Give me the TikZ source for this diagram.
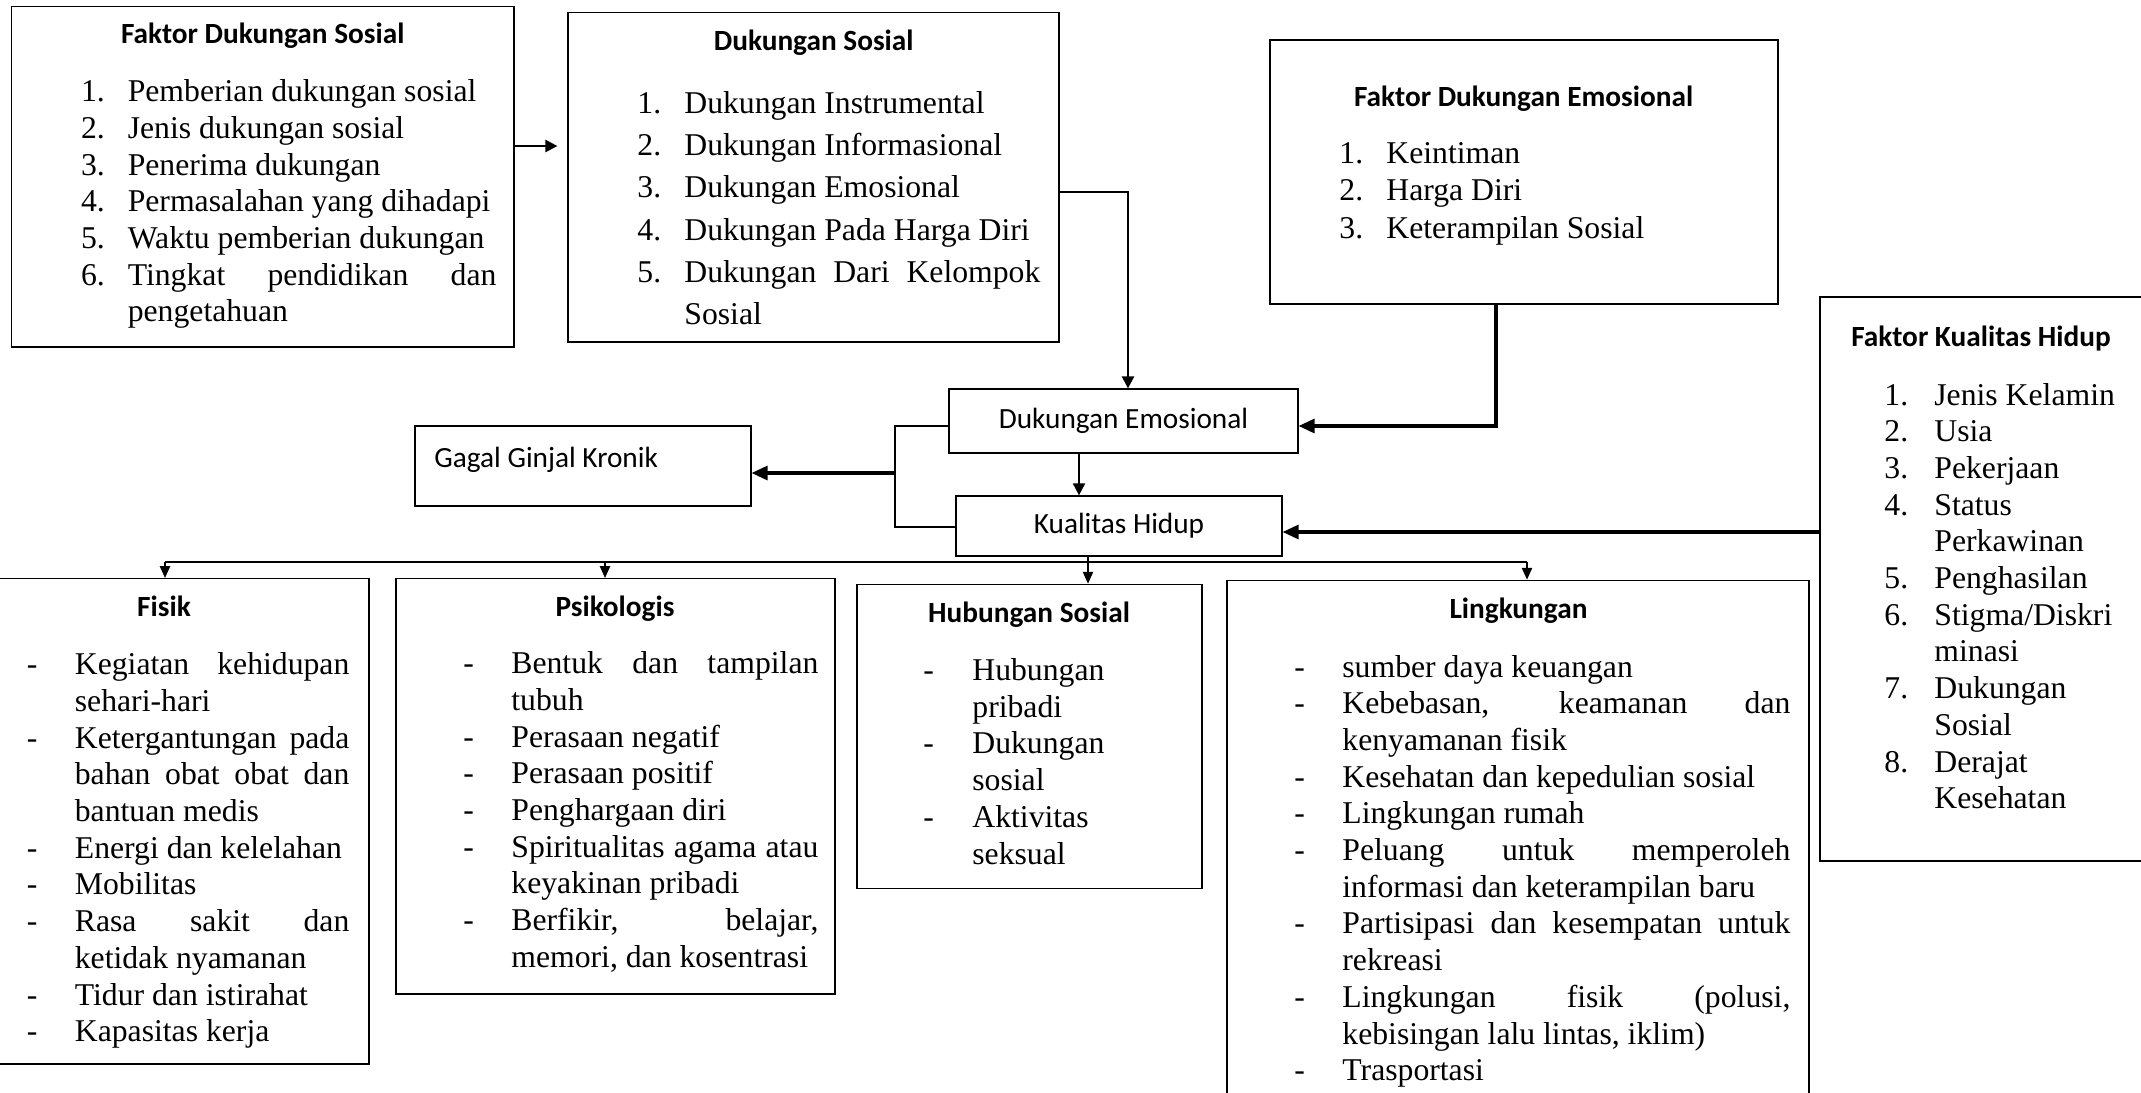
\documentclass[tikz,border=0pt]{standalone}
\usepackage{fontspec}
\setmainfont{Liberation Serif}
\newfontfamily\calfont{Carlito}
\usetikzlibrary{arrows.meta,fit}

\newlength\hangw
\newcommand\itm[2]{\par\hangindent=\hangw\hangafter=1\noindent\makebox[\hangw][l]{#1}#2}
% #1 hang, #2 width, #3 baselineskip, #4 items
\newcommand\lstbox[4]{\parbox[t]{#2}{\fontsize{15.85pt}{#3}\selectfont\setlength\hangw{#1}%
  \tolerance=10000\hyphenpenalty=10000\exhyphenpenalty=10000\parskip=0pt\parindent=0pt #4}}
\newcommand\hdfont{\calfont\bfseries\fontsize{14.65pt}{17pt}\selectfont}
\newcommand\lblfont{\calfont\fontsize{14.65pt}{17pt}\selectfont}

\begin{document}
\begin{tikzpicture}[x=0.5pt,y=-0.5pt,
  box/.style={draw, line width=0.6pt, inner sep=0pt},
  hd/.style={font=\hdfont, anchor=base, inner sep=0pt},
  lbl/.style={font=\lblfont, anchor=base, inner sep=0pt},
  lst/.style={anchor=base west, inner sep=0pt},
  conn/.style={line width=1.2pt},
  thk/.style={line width=1.6pt},
  thn/.style={line width=0.9pt},
  bigtip/.style={-{Triangle[length=8pt,width=7pt]}},
  midtip/.style={-{Triangle[length=6pt,width=6pt]}},
  smalltip/.style={-{Triangle[length=6pt,width=5pt]}}]

\useasboundingbox (0,0) rectangle (2141,1092);
\fill[white] (0,0) rectangle (2141,1092);
\clip (0,0) rectangle (2141,1092);

% ---------- boxes ----------
\node[box, fit={(11.7,6.7) (514,347)}] (fds) {};
\node[box, fit={(568,12.7) (1059,342)}] (ds) {};
\node[box, fit={(1270,40) (1778,304)}] (fde) {};
\node[box, fit={(949,389) (1298,453)}] (de) {};
\node[box, fit={(956,496) (1282,556)}] (kh) {};
\node[box, fit={(415,426) (751,506)}] (ggk) {};
\node[box, fit={(1820,297) (2170,861)}] (fkh) {};
\node[box, fit={(-8,578.7) (369,1064)}] (fisik) {};
\node[box, fit={(396,578.7) (835,994)}] (psi) {};
\node[box, fit={(857,584.4) (1202,888.5)}] (hs) {};
\node[box, fit={(1227,580.4) (1809,1120)}] (ling) {};

% ---------- single labels ----------
\node[lbl] (deT) at (1123.5,428.3) {Dukungan Emosional};
\node[lbl] (khT) at (1119,533.3) {Kualitas Hidup};
\node[lbl, anchor=base west] (ggkT) at (434,467.3) {Gagal Ginjal Kronik};

% ---------- headings ----------
\node[hd] (fdsH) at (262.7,43.5) {Faktor Dukungan Sosial};
\node[hd] (dsH) at (813.7,50) {Dukungan Sosial};
\node[hd] (fdeH) at (1523.6,106) {Faktor Dukungan Emosional};
\node[hd] (fkhH) at (1981,346.7) {Faktor Kualitas Hidup};
\node[hd] (fisikH) at (164,616) {Fisik};
\node[hd] (psiH) at (615,616) {Psikologis};
\node[hd] (hsH) at (1029,622.8) {Hubungan Sosial};
\node[hd] (lingH) at (1518.5,618.4) {Lingkungan};

% ---------- lists ----------
\node[lst] (fdsL) at (80.6,101.7) {\lstbox{23.4pt}{207.7pt}{18.35pt}{%
  \itm{1.}{Pemberian dukungan sosial}
  \itm{2.}{Jenis dukungan sosial}
  \itm{3.}{Penerima dukungan}
  \itm{4.}{Permasalahan yang dihadapi}
  \itm{5.}{Waktu pemberian dukungan}
  \itm{6.}{Tingkat pendidikan dan\linebreak pengetahuan}}};

\node[lst] (dsL) at (637,113.3) {\lstbox{23.5pt}{201.5pt}{21.15pt}{%
  \itm{1.}{Dukungan Instrumental}
  \itm{2.}{Dukungan Informasional}
  \itm{3.}{Dukungan Emosional}
  \itm{4.}{Dukungan Pada Harga Diri}
  \itm{5.}{Dukungan Dari Kelompok\linebreak Sosial}}};

\node[lst] (fdeL) at (1339,163.3) {\lstbox{23.5pt}{200pt}{18.75pt}{%
  \itm{1.}{Keintiman}
  \itm{2.}{Harga Diri}
  \itm{3.}{Keterampilan Sosial}}};

\node[lst] (fkhL) at (1884,405) {\lstbox{25pt}{130pt}{18.35pt}{%
  \itm{1.}{Jenis Kelamin}
  \itm{2.}{Usia}
  \itm{3.}{Pekerjaan}
  \itm{4.}{Status\\Perkawinan}
  \itm{5.}{Penghasilan}
  \itm{6.}{Stigma/Diskri\\minasi}
  \itm{7.}{Dukungan\\Sosial}
  \itm{8.}{Derajat\\Kesehatan}}};

\node[lst] (fisikL) at (26.5,674.7) {\lstbox{24pt}{161.25pt}{18.35pt}{%
  \itm{-}{Kegiatan kehidupan\linebreak sehari-hari}
  \itm{-}{Ketergantungan pada\linebreak bahan obat obat dan\linebreak bantuan medis}
  \itm{-}{Energi dan kelelahan}
  \itm{-}{Mobilitas}
  \itm{-}{Rasa sakit dan\linebreak ketidak nyamanan}
  \itm{-}{Tidur dan istirahat}
  \itm{-}{Kapasitas kerja}}};

\node[lst] (psiL) at (463,673.7) {\lstbox{24pt}{177.5pt}{18.35pt}{%
  \itm{-}{Bentuk dan tampilan\linebreak tubuh}
  \itm{-}{Perasaan negatif}
  \itm{-}{Perasaan positif}
  \itm{-}{Penghargaan diri}
  \itm{-}{Spiritualitas agama atau\linebreak keyakinan pribadi}
  \itm{-}{Berfikir, belajar,\linebreak memori, dan kosentrasi}}};

\node[lst] (hsL) at (923,680.5) {\lstbox{24.5pt}{110pt}{18.35pt}{%
  \itm{-}{Hubungan\\pribadi}
  \itm{-}{Dukungan\\sosial}
  \itm{-}{Aktivitas\\seksual}}};

\node[lst] (lingL) at (1294,677) {\lstbox{24pt}{248pt}{18.35pt}{%
  \itm{-}{sumber daya keuangan}
  \itm{-}{Kebebasan, keamanan dan\linebreak kenyamanan fisik}
  \itm{-}{Kesehatan dan kepedulian sosial}
  \itm{-}{Lingkungan rumah}
  \itm{-}{Peluang untuk memperoleh\linebreak informasi dan keterampilan baru}
  \itm{-}{Partisipasi dan kesempatan untuk\linebreak rekreasi}
  \itm{-}{Lingkungan fisik (polusi,\linebreak kebisingan lalu lintas, iklim)}
  \itm{-}{Trasportasi}}};

% ---------- connectors ----------
\coordinate (p1) at (540,146);
\draw[conn, midtip, shorten >=5pt] (fds.east |- p1) -- (ds.west |- p1);

\coordinate (b1) at (1128,192);
\draw[conn, midtip] (ds.east |- b1) -- (b1) -- (b1 |- de.north);

\coordinate (b2) at (1496,426);
\draw[thk, bigtip] (fde.south -| b2) -- (b2) -- (de.east |- b2);

\coordinate (b3) at (1079,470);
\draw[thn, midtip] (de.south -| b3) -- (kh.north -| b3);

\coordinate (b4) at (895,426);
\coordinate (b5) at (895,527);
\draw[conn] (de.west |- b4) -- (b4) -- (b5) -- (kh.west |- b5);
\coordinate (b6) at (895,473);
\draw[thk, bigtip] (b6) -- (ggk.east |- b6);

\coordinate (b7) at (1600,532);
\draw[thk, bigtip] (fkh.west |- b7) -- (kh.east |- b7);

\coordinate (d0) at (165,562);
\coordinate (d1) at (1527,562);
\coordinate (d2) at (605,562);
\coordinate (dk) at (1088,562);
\draw[conn] (d0) -- (d1);
\draw[conn, smalltip] (kh.south -| dk) -- (hs.north -| dk);
\draw[conn, smalltip] (d0) -- (fisik.north -| d0);
\draw[conn, smalltip] (d2) -- (psi.north -| d2);
\draw[conn, smalltip] (d1) -- (ling.north -| d1);
\end{tikzpicture}
\end{document}
